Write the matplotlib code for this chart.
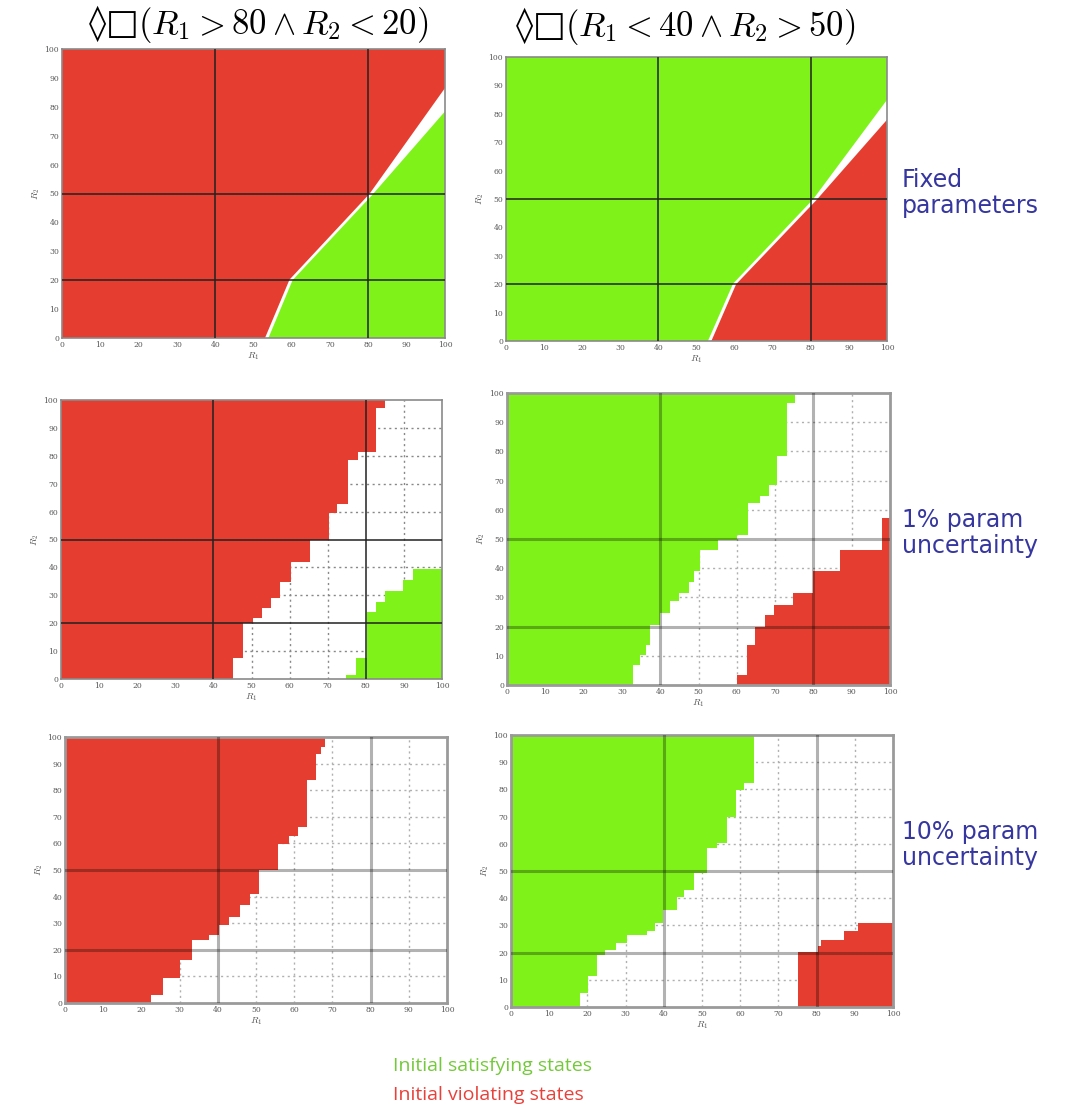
import numpy as np
import matplotlib
matplotlib.use("Agg")
import matplotlib.pyplot as plt

plt.rcParams["mathtext.fontset"] = "cm"

W, H = 1071, 1114
RED = "#e53e30"
GREEN = "#7ff21a"

ticks = list(range(0, 101, 10))
major_x = [40, 80]
major_y = [20, 50]

# ---- fixed parameters: straight-line boundaries (R1, R2 points) ----
p1_upper_x = [53.0, 59.4, 80.3, 100.0]
p1_upper_y = [0.0, 20.2, 49.9, 86.5]
p1_lower_x = [53.9, 60.2, 81.0, 100.0]
p1_lower_y = [0.0, 20.0, 49.5, 78.4]

p2_upper_x = [53.0, 59.6, 80.6, 100.0]
p2_upper_y = [0.0, 20.2, 49.9, 84.9]
p2_lower_x = [53.9, 60.4, 81.4, 100.0]
p2_lower_y = [0.0, 20.0, 49.5, 77.9]

# ---- 1% uncertainty: staircase edges (row breaks in R2, edge in R1) ----
p3_left_rows = [0, 7.4, 20, 21.7, 25.3, 28.9, 34.9, 42, 50, 59.4, 62.7, 78.5, 81.5, 97, 100]
p3_left_edge = [45.2, 47.8, 50.3, 52.8, 55.2, 57.6, 60.3, 65.3, 70.3, 72.5, 75.3, 78, 82.8, 85]
p3_right_rows = [0, 1.4, 7.4, 24.1, 27.7, 31.7, 35.5, 39.3]
p3_right_edge = [74.9, 77.5, 80.2, 82.6, 85, 89.8, 92.4]

p4_left_rows = [0, 6.9, 10.3, 13.7, 20.6, 24.6, 28.6, 31.4, 35.4, 38.9, 46.3, 49.5, 51.4,
                62.3, 64.6, 68.6, 78.3, 96.6, 100]
p4_left_edge = [33, 34.8, 36.3, 37.4, 40, 42.6, 44.8, 47.4, 48.7, 50.4, 55.2, 60, 63,
                66.1, 68.3, 70.4, 73, 75.2]
p4_right_rows = [0, 3.5, 13.7, 20, 24, 27.4, 31.4, 38.9, 46.3, 57.1]
p4_right_edge = [60, 62.6, 64.8, 67.4, 69.6, 74.8, 80, 87, 97.8]

# ---- 10% uncertainty ----
p5_left_rows = [0, 2.9, 9.5, 16, 23.6, 25.4, 29.2, 32.3, 36.7, 41, 49.9, 59.9, 62.7, 66.2,
                83.7, 93.7, 96.2, 100]
p5_left_edge = [22.6, 25.7, 30, 33.2, 37.8, 40.4, 43, 45.7, 48.3, 50.9, 55.7, 58.7, 60.9,
                63.3, 65.7, 67, 68.1]

p6_left_rows = [0, 5.1, 11.3, 19.2, 21, 23.5, 26.6, 27.8, 30.8, 35.7, 40.6, 43.1, 49.2,
                58.4, 60.2, 70, 79.8, 82.3, 100]
p6_left_edge = [18, 20.2, 22.4, 24.6, 27.6, 30.3, 35.5, 37.7, 39.9, 43.4, 45.2, 47.8, 51.3,
                54, 56.6, 58.8, 61, 63.6]
p6_right_rows = [0, 20.4, 22.3, 24.7, 27.8, 30.8]
p6_right_edge = [75, 80.3, 81.1, 87.3, 90.8]


def stair(rows, edge):
    xs, ys = [], []
    for i, e in enumerate(edge):
        xs += [e, e]
        ys += [rows[i], rows[i + 1]]
    return xs, ys


def fill_left_stair(ax, rows, edge, color):
    xs, ys = stair(rows, edge)
    ax.fill([0] + xs + [0], [rows[0]] + ys + [rows[-1]], color=color, lw=0, zorder=2)


def fill_right_stair(ax, rows, edge, color):
    xs, ys = stair(rows, edge)
    ax.fill([100] + xs + [100], [rows[0]] + ys + [rows[-1]], color=color, lw=0, zorder=2)


def make_axes(fig, left, top, right, bottom):
    return fig.add_axes([left / W, 1 - bottom / H, (right - left) / W, (bottom - top) / H])


def style(ax, soft=False):
    ax.set_xlim(0, 100)
    ax.set_ylim(0, 100)
    ax.set_xticks(ticks)
    ax.set_yticks(ticks)
    ax.tick_params(length=0, pad=2, labelsize=5.5, colors="#555555")
    for lab in ax.get_xticklabels() + ax.get_yticklabels():
        lab.set_family("DejaVu Serif")
    for s in ax.spines.values():
        s.set_color("#9a9a9a" if soft else "#8a8a8a")
        s.set_linewidth(2.0 if soft else 1.2)
    ax.set_xlabel(r"$R_1$", fontsize=7, labelpad=1, color="#555555")
    ax.set_ylabel(r"$R_2$", fontsize=7, labelpad=2, color="#555555")
    if soft:
        kw = dict(color="black", alpha=0.3, lw=2.2, zorder=5)
    else:
        kw = dict(color="#222222", lw=1.1, zorder=5)
    for v in major_x:
        ax.axvline(v, **kw)
    for v in major_y:
        ax.axhline(v, **kw)


def minor_grid(ax, soft=False):
    c = "#b0b0b0" if soft else "#888888"
    for v in ticks[1:-1]:
        if v not in major_x:
            ax.axvline(v, color=c, lw=1.0, ls=(0, (1.5, 2.5)), zorder=1)
        if v not in major_y:
            ax.axhline(v, color=c, lw=1.0, ls=(0, (1.5, 2.5)), zorder=1)


fig = plt.figure(figsize=(W / 100, H / 100), dpi=100)

# Row 1: fixed parameters
ax1 = make_axes(fig, 62, 49, 445, 338)
ax1.fill([0] + p1_upper_x + [100, 0], [0] + p1_upper_y + [100, 100], color=RED, lw=0, zorder=2)
ax1.fill(p1_lower_x + [100], p1_lower_y + [0], color=GREEN, lw=0, zorder=2)
style(ax1)

ax2 = make_axes(fig, 506, 57, 887, 341)
ax2.fill([0] + p2_upper_x + [100, 0], [0] + p2_upper_y + [100, 100], color=GREEN, lw=0, zorder=2)
ax2.fill(p2_lower_x + [100], p2_lower_y + [0], color=RED, lw=0, zorder=2)
style(ax2)

# Row 2: 1% parameter uncertainty
ax3 = make_axes(fig, 61, 400, 442, 679)
minor_grid(ax3)
fill_left_stair(ax3, p3_left_rows, p3_left_edge, RED)
fill_right_stair(ax3, p3_right_rows, p3_right_edge, GREEN)
style(ax3)

ax4 = make_axes(fig, 507, 393, 890, 685)
minor_grid(ax4, soft=True)
fill_left_stair(ax4, p4_left_rows, p4_left_edge, GREEN)
fill_right_stair(ax4, p4_right_rows, p4_right_edge, RED)
style(ax4, soft=True)

# Row 3: 10% parameter uncertainty
ax5 = make_axes(fig, 65, 737, 447, 1003)
minor_grid(ax5, soft=True)
fill_left_stair(ax5, p5_left_rows, p5_left_edge, RED)
style(ax5, soft=True)

ax6 = make_axes(fig, 511, 735, 893, 1007)
minor_grid(ax6, soft=True)
fill_left_stair(ax6, p6_left_rows, p6_left_edge, GREEN)
fill_right_stair(ax6, p6_right_rows, p6_right_edge, RED)
style(ax6, soft=True)

# Column headings
fig.text(258 / W, 1 - 24 / H, "\u25ca\u25a1" + r"$(R_1 > 80 \wedge R_2 < 20)$",
         ha="center", va="center", fontsize=25, family="DejaVu Serif")
fig.text(685 / W, 1 - 26 / H, "\u25ca\u25a1" + r"$(R_1 < 40 \wedge R_2 > 50)$",
         ha="center", va="center", fontsize=25, family="DejaVu Serif")

# Row descriptions
row_color = "#3636a0"
for txt, yc in [("Fixed\nparameters", 193), ("1% param\nuncertainty", 533),
                ("10% param\nuncertainty", 845)]:
    fig.text(902 / W, 1 - yc / H, txt, ha="left", va="center", fontsize=17,
             color=row_color, linespacing=1.15)

# Colour key
fig.text(393 / W, 1 - 1066 / H, "Initial satisfying states", ha="left", va="center",
         fontsize=14, color="#74c93a", family="Open Sans")
fig.text(393 / W, 1 - 1095 / H, "Initial violating states", ha="left", va="center",
         fontsize=14, color="#e8413a", family="Open Sans")

fig.savefig("out.png", dpi=100)
